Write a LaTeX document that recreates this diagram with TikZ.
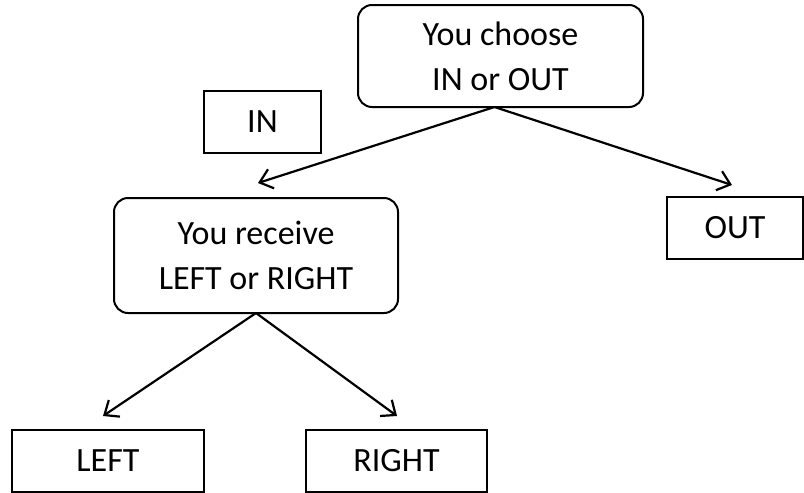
\documentclass[tikz,border=0pt]{standalone}
\usepackage{fontspec}
\setmainfont{Carlito}
\usetikzlibrary{arrows.meta}

\begin{document}
\begin{tikzpicture}[x=0.5pt,y=-0.5pt,
	box/.style={draw,line width=1pt,inner sep=0,outer sep=0,align=center,font=\fontsize{17pt}{22.5pt}\selectfont},
	roundbox/.style={box,rounded corners=7pt},
	arr/.style={line width=1.1pt,-{Straight Barb[length=6pt,width=10pt]}}]
	\useasboundingbox (0,0) rectangle (804,493);
	\node[roundbox,minimum width=142.5pt,minimum height=51pt] (1) at (500.5,56) {You choose\\IN or OUT};
	\node[roundbox,minimum width=142pt,minimum height=57.5pt] (2) at (256,255.5) {You receive\\LEFT or RIGHT};
	\node[box,minimum width=58.5pt,minimum height=31pt] (3) at (262.5,122) {IN};
	\node[box,minimum width=68pt,minimum height=31pt] (4) at (735,228) {OUT};
	\node[box,minimum width=96pt,minimum height=31pt] (5) at (108,460.5) {LEFT};
	\node[box,minimum width=90.5pt,minimum height=31pt] (6) at (396.5,460.5) {RIGHT};
	\coordinate (a) at (258,183);
	\coordinate (b) at (732,185);
	\coordinate (c) at (103,416);
	\coordinate (d) at (397,416);
	\draw[arr] ([xshift=-3pt]1.south) -- (a);
	\draw[arr] ([xshift=-3pt]1.south) -- (b);
	\draw[arr] (2.south) -- (c);
	\draw[arr] (2.south) -- (d);
\end{tikzpicture}
\end{document}
